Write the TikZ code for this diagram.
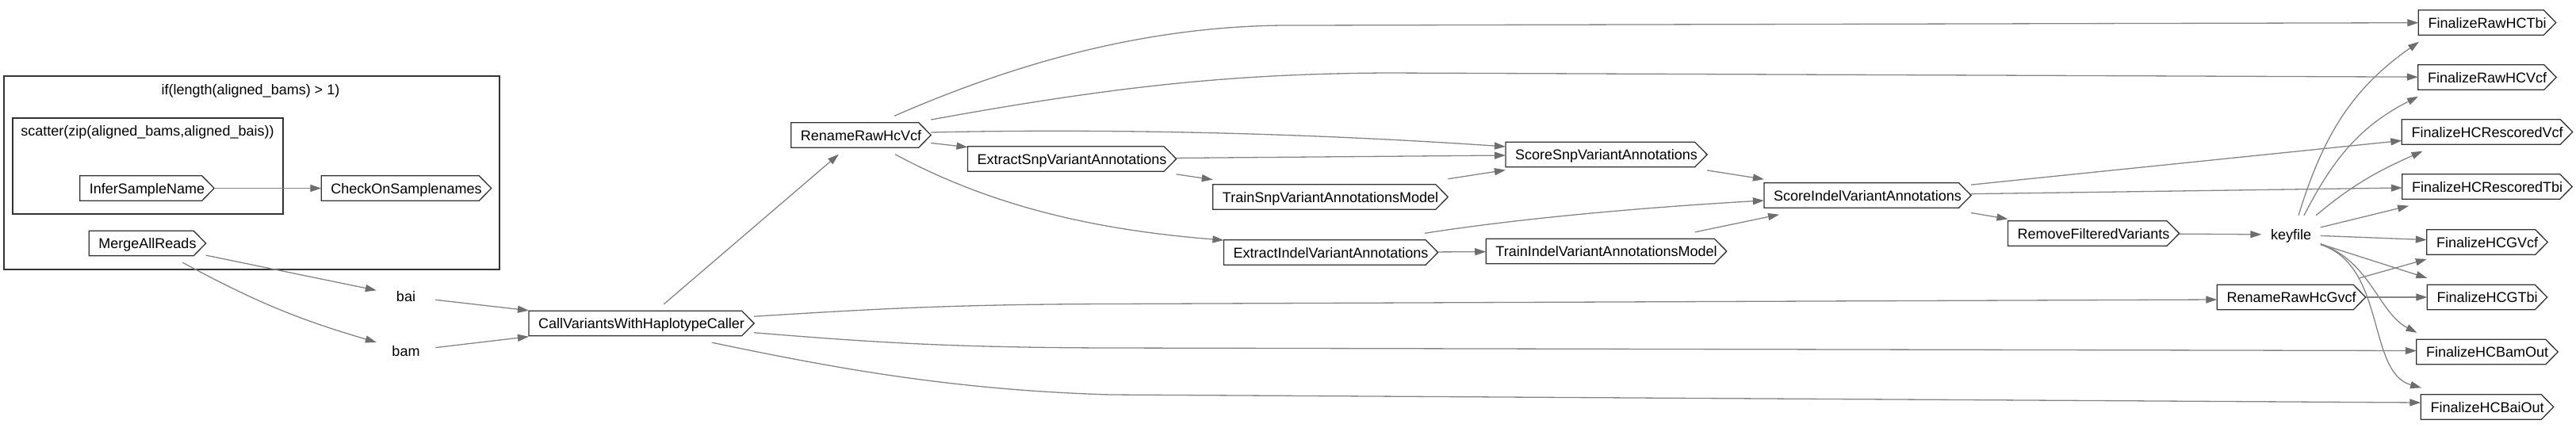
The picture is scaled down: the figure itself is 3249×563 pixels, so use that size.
\documentclass[tikz,border=0pt]{standalone}
\usepackage{fontspec}
\setmainfont{Liberation Sans}
\usetikzlibrary{arrows.meta}
\definecolor{edgeGray}{HTML}{858585}
\definecolor{tipGray}{HTML}{6E6E6E}
\definecolor{boxGray}{HTML}{333333}
\def\tipW{15.5pt}	% how far the pointed end sticks out
\def\padH{8.5pt}	% gap between the clip box and the drawn outline
\newcommand\nodefont{\fontsize{18pt}{22pt}\selectfont}
\tikzset{ >={Triangle[length=14pt,width=9pt,color=tipGray]} }
\tikzset{
	flow/.style={->, draw=edgeGray, line width=1.3pt},
	cluster/.style={draw=boxGray, line width=1.4pt},
	clusterlabel/.style={inner sep=0pt, text height=13pt, text depth=0pt, font=\nodefont},
	datanode/.style={rectangle, minimum width=74pt, minimum height=48pt, inner sep=0pt,
		text height=13pt, text depth=0pt, font=\nodefont},
	task/.style={rectangle, minimum height=48pt, inner xsep=12pt, inner ysep=0pt,
		text height=13pt, text depth=0pt, font=\nodefont,
		append after command={\pgfextra{
			\draw[boxGray, line width=1.3pt, line join=miter]
				([yshift=-\padH]\tikzlastnode.north west)
				-- ([xshift=-\tipW,yshift=-\padH]\tikzlastnode.north east)
				-- (\tikzlastnode.east)
				-- ([xshift=-\tipW,yshift=\padH]\tikzlastnode.south east)
				-- ([yshift=\padH]\tikzlastnode.south west) -- cycle;}}},
}
\begin{document}
\begin{tikzpicture}[x=1pt,y=1pt]
	\useasboundingbox (0,0) rectangle (3249,-563);		% whole canvas, in pixels
	% Clusters
	\draw[cluster] (5,-96) rectangle (630,-340);			% if block
	\draw[cluster] (16,-149) rectangle (357,-270);		% scatter block
	\node[clusterlabel] (IFL) at (316,-113) {if(length(aligned\_bams) > 1)};
	\node[clusterlabel] (SCL) at (186,-165) {scatter(zip(aligned\_bams,aligned\_bais))};
	% Tasks and values
	\node[task] (ISN) at (185.5,-237.5) {InferSampleName};
	\node[task] (COS) at (512.5,-237.5) {CheckOnSamplenames};
	\node[task] (MAR) at (186,-307)     {MergeAllReads};
	\node[datanode] (BAI) at (512,-374) {bai};
	\node[datanode] (BAM) at (512,-443) {bam};
	\node[task] (CV)  at (809,-408)     {CallVariantsWithHaplotypeCaller};
	\node[task] (RRV) at (1086,-170.5)  {RenameRawHcVcf};
	\node[task] (ESN) at (1352,-200.5)  {ExtractSnpVariantAnnotations};
	\node[task] (TSN) at (1678,-248.5)  {TrainSnpVariantAnnotationsModel};
	\node[task] (EIN) at (1678.5,-318.5){ExtractIndelVariantAnnotations};
	\node[task] (SSN) at (2026,-195)    {ScoreSnpVariantAnnotations};
	\node[task] (TIN) at (2026,-317)    {TrainIndelVariantAnnotationsModel};
	\node[task] (SIN) at (2355.5,-246.5){ScoreIndelVariantAnnotations};
	\node[task] (RFV) at (2640.5,-294.5){RemoveFilteredVariants};
	\node[datanode] (KEY) at (2889.5,-296) {keyfile};
	\node[task] (RRG) at (2890,-375)    {RenameRawHcGvcf};
	% Outputs, one column
	\node[task] (FRT) at (3137,-28.5)   {FinalizeRawHCTbi};
	\node[task] (FRV) at (3137,-97.5)   {FinalizeRawHCVcf};
	\node[task] (FSV) at (3137,-166.5)  {FinalizeHCRescoredVcf};
	\node[task] (FST) at (3137,-235.5)  {FinalizeHCRescoredTbi};
	\node[task] (FGV) at (3137,-305.5)  {FinalizeHCGVcf};
	\node[task] (FGT) at (3137,-375)    {FinalizeHCGTbi};
	\node[task] (FBM) at (3137,-444)    {FinalizeHCBamOut};
	\node[task] (FBI) at (3137,-513.5)  {FinalizeHCBaiOut};
	% Left part
	\draw[flow] (ISN) -- (COS);
	\draw[flow] (MAR) -- (BAI);
	\draw[flow] (MAR) to[bend right=6] (BAM);
	\draw[flow] (BAI) -- (CV);
	\draw[flow] (BAM) -- (CV);
	\draw[flow] (CV) -- (RRV);
	% Out of CallVariants, long runs
	\draw[flow] (CV) .. controls (1100,-390) and (1200,-384) .. (1400,-383.5) -- ([yshift=-3pt]RRG.west);
	\draw[flow] (CV) .. controls (1100,-432) and (1200,-438.5) .. (1400,-439) -- ([yshift=1.5pt]FBM.west);
	\draw[flow] ([xshift=89pt]CV.south) .. controls (1050,-464) and (1200,-492) .. (1400,-498) -- ([yshift=5.5pt]FBI.west);
	% Out of RenameRawHcVcf
	\draw[flow] ([xshift=42pt]RRV.north) .. controls (1280,-80) and (1450,-30) .. (1640,-32) -- (FRT);
	\draw[flow] ([yshift=19.5pt]RRV.east) .. controls (1400,-110) and (1550,-93) .. (1750,-92) -- (FRV);
	\draw[flow] ([yshift=3.5pt]RRV.east) .. controls (1400,-162) and (1650,-168) .. ([yshift=10pt]SSN.west);
	\draw[flow] (RRV) -- (ESN);
	\draw[flow] ([xshift=43pt]RRV.south) .. controls (1250,-260) and (1380,-290) .. ([yshift=15.5pt]EIN.west);
	% Annotation steps
	\draw[flow] (ESN) -- (SSN);
	\draw[flow] (ESN) -- (TSN);
	\draw[flow] (TSN) -- (SSN);
	\draw[flow] (EIN) -- (TIN);
	\draw[flow] ([xshift=118.5pt]EIN.north) .. controls (1900,-278) and (2050,-263) .. ([yshift=-6.5pt]SIN.west);
	\draw[flow] ([xshift=112pt]TIN.north) -- ([xshift=-111.5pt]SIN.south);
	\draw[flow] (SSN) -- (SIN);
	\draw[flow] (SIN) -- (FSV);
	\draw[flow] (SIN) -- (FST);
	\draw[flow] (SIN) -- (RFV);
	\draw[flow] (RFV) -- (KEY);
	% Fan out of keyfile
	\draw[flow] ([xshift=9.5pt]KEY.north)  to[out=73,in=-145] ([xshift=-86pt]FRT.south);
	\draw[flow] ([xshift=16.5pt]KEY.north) to[out=63,in=-153] ([xshift=-87pt]FRV.south);
	\draw[flow] ([xshift=31.5pt]KEY.north) to[out=40,in=-156] ([xshift=-81.5pt]FSV.south);
	\draw[flow] (KEY) -- (FST);
	\draw[flow] (KEY) -- (FGV);
	\draw[flow] (KEY) -- (FGT);
	\draw[flow] ([yshift=-11.6pt]KEY.east) .. controls (2990,-330) and (3000,-395) .. ([xshift=-88.5pt]FBM.north);
	\draw[flow] ([yshift=-12.7pt]KEY.east) .. controls (3010,-335) and (2985,-470) .. ([xshift=-83pt]FBI.north);
	% RenameRawHcGvcf
	\draw[flow] (RRG) -- (FGV);
	\draw[flow] (RRG) -- (FGT);
\end{tikzpicture}
\end{document}
